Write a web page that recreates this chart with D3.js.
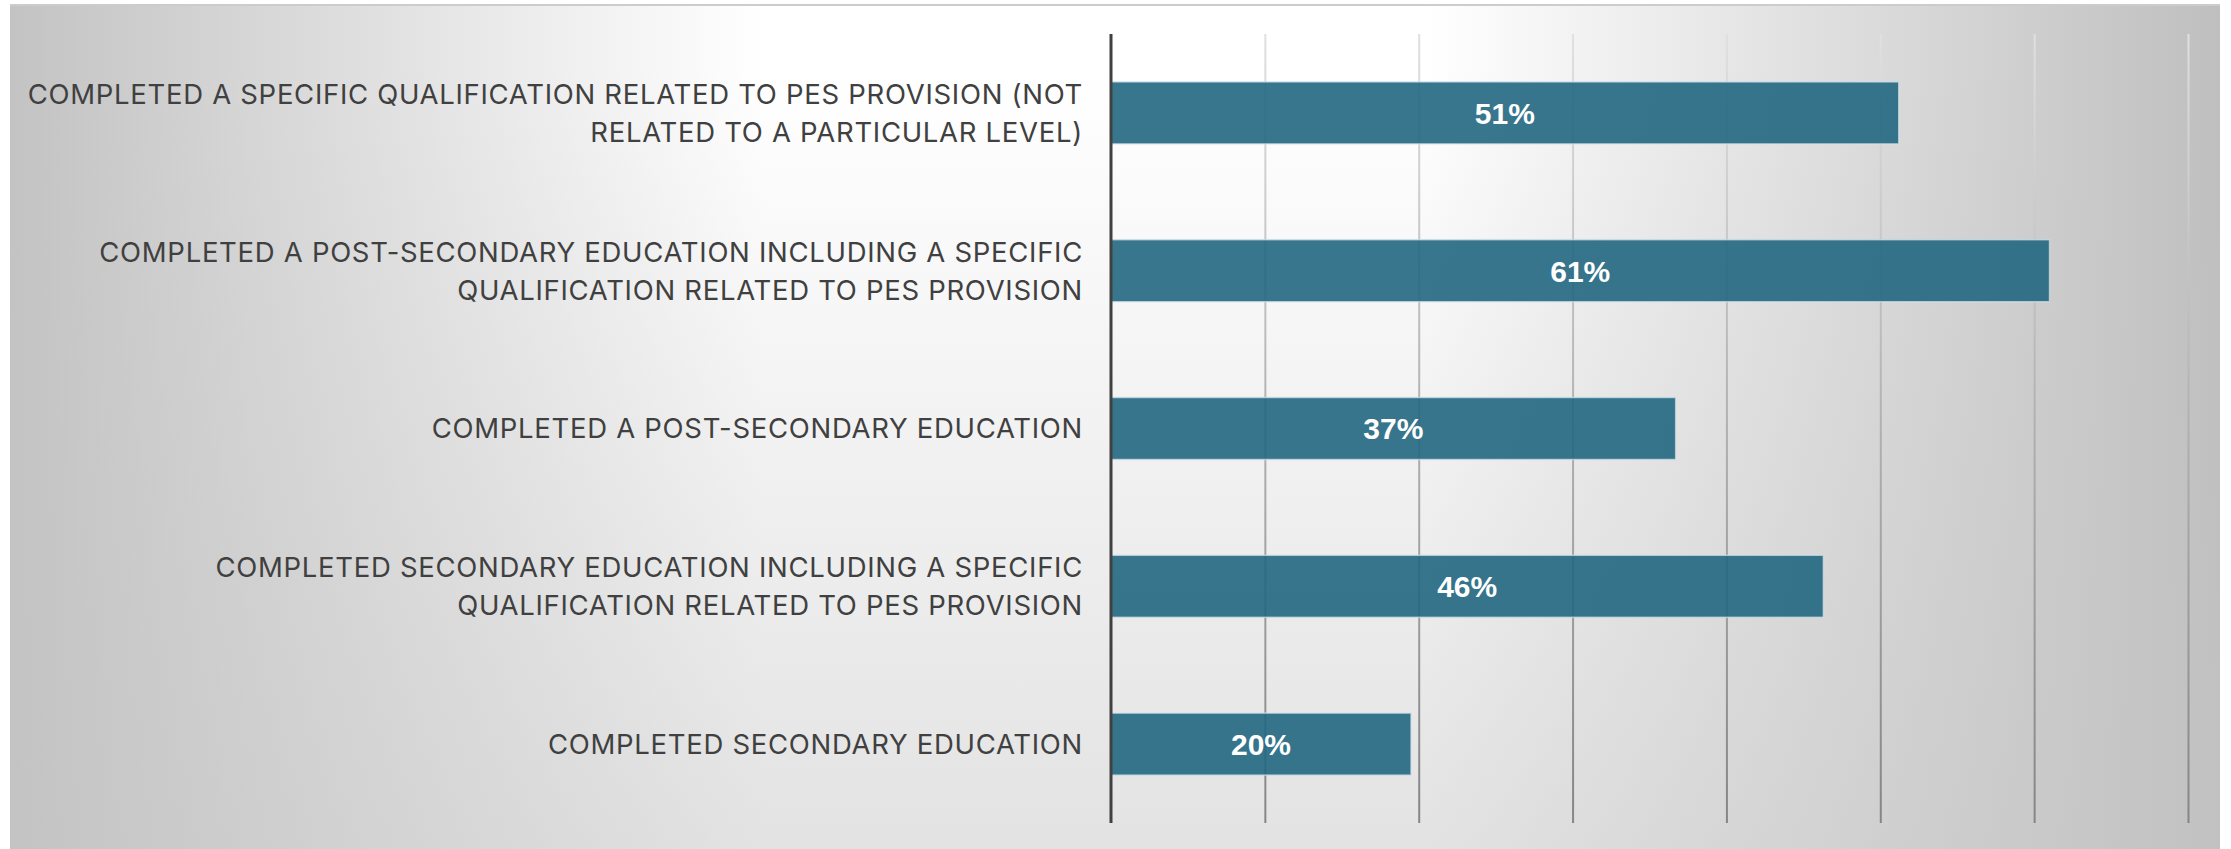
<!DOCTYPE html>
<html>
<head>
<meta charset="utf-8">
<script src="https://cdn.jsdelivr.net/npm/d3@7"></script>
<style>
  html, body { margin: 0; padding: 0; background: #fff; }
  svg { display: block; }
</style>
</head>
<body>
<svg width="2231" height="849"></svg>
<script>
// category labels, already broken into the lines used in the picture
var categories = [
    ["COMPLETED A SPECIFIC QUALIFICATION RELATED TO PES PROVISION (NOT", "RELATED TO A PARTICULAR LEVEL)"],
    ["COMPLETED A POST-SECONDARY EDUCATION INCLUDING A SPECIFIC", "QUALIFICATION RELATED TO PES PROVISION"],
    ["COMPLETED A POST-SECONDARY EDUCATION"],
    ["COMPLETED SECONDARY EDUCATION INCLUDING A SPECIFIC", "QUALIFICATION RELATED TO PES PROVISION"],
    ["COMPLETED SECONDARY EDUCATION"]
];
// shares; labels show them rounded
var values = [0.512, 0.61, 0.367, 0.463, 0.195];
var gridTicks = [0.1, 0.2, 0.3, 0.4, 0.5, 0.6, 0.7];

// small stand-in for selection.attrs (no d3-selection-multi here)
function setAttrs(sel, obj) {
    Object.keys(obj).forEach(function (k) { sel.attr(k, obj[k]); });
    return sel;
}

function addStops(grad, stops) {
    stops.forEach(function (s) {
        var st = grad.append("stop").attr("offset", s[0]).attr("stop-color", s[1]);
        if (s.length > 2) st.attr("stop-opacity", s[2]);
    });
}

var svg = d3.select("svg"),
    width = +svg.attr("width"),
    height = +svg.attr("height");

var margin = {top: 34, right: 43, bottom: 26, left: 1111};
var plotH = height - margin.bottom - margin.top;

var defs = svg.append("defs");

// panel background: grey - white - grey across, a bit greyer toward the bottom
var bgH = setAttrs(defs.append("linearGradient"), {"id": "bgH", "x1": 0, "y1": 0, "x2": 1, "y2": 0});
addStops(bgH, [[0, "#c3c3c3"], [0.34, "#ffffff"], [0.64, "#ffffff"], [1, "#bfbfbf"]]);

var bgV = setAttrs(defs.append("linearGradient"), {"id": "bgV", "x1": 0, "y1": 0, "x2": 0, "y2": 1});
addStops(bgV, [[0, "#c4c4c4", 0], [0.08, "#c4c4c4", 0], [1, "#c4c4c4", 0.48]]);

// gridlines get darker toward the bottom (coords are in the axis group's space)
var gg = setAttrs(defs.append("linearGradient"), {
    "id": "gridGrad", "gradientUnits": "userSpaceOnUse",
    "x1": 0, "y1": -plotH, "x2": 0, "y2": 0
});
addStops(gg, [[0, "#e0e0e0"], [0.5, "#b0b0b0"], [1, "#858585"]]);

setAttrs(svg.append("rect"),
    {"x": 10, "y": 5, "width": 2210, "height": height - 5, "fill": "url(#bgH)"});
setAttrs(svg.append("rect"),
    {"x": 10, "y": 5, "width": 2210, "height": height - 5, "fill": "url(#bgV)"});
setAttrs(svg.append("line"),
    {"x1": 10, "x2": 2220, "y1": 5, "y2": 5, "stroke": "#cccccc", "stroke-width": 2});

var x = d3.scaleLinear()
    .domain([0, 0.7])
    .range([margin.left, width - margin.right]);

var y = d3.scaleBand()
    .domain(d3.range(categories.length))
    .range([margin.top, height - margin.bottom])
    .paddingInner(0.607)
    .paddingOuter(0.3035);

// vertical gridlines
var grid = svg.append("g")
    .attr("transform", "translate(0," + (height - margin.bottom) + ")")
    .call(d3.axisBottom(x)
        .tickValues(gridTicks)
        .tickSize(-plotH)
        .tickFormat(""));
grid.select(".domain").remove();
grid.selectAll(".tick line")
    .attr("stroke", "url(#gridGrad)")
    .attr("stroke-width", 2);

// bars
svg.selectAll(".bar")
    .data(values)
    .enter()
    .append("rect")
    .attr("class", "bar")
    .attr("x", x(0))
    .attr("y", function (d, i) {return y(i);})
    .attr("width", function (d) {return x(d) - x(0);})
    .attr("height", y.bandwidth())
    .attr("fill", "#216780")
    .attr("fill-opacity", 0.9)
    .attr("stroke", "#d4e3ea")
    .attr("stroke-opacity", 0.7)
    .attr("stroke-width", 1.5);

// value labels
svg.selectAll(".value")
    .data(values)
    .enter()
    .append("text")
    .attr("class", "value")
    .attr("x", function (d) {return (x(0) + x(d)) / 2;})
    .attr("y", function (d, i) {return y(i) + y.bandwidth() / 2;})
    .attr("dy", "0.36em")
    .attr("text-anchor", "middle")
    .style("font-family", "'Liberation Sans', Arial, sans-serif")
    .style("font-weight", "bold")
    .style("font-size", "30px")
    .style("fill", "#ffffff")
    .text(function (d) {return Math.round(d * 100) + "%";});

// category labels
var lineH = 38;
var labels = svg.selectAll(".label")
    .data(categories)
    .enter()
    .append("text")
    .attr("class", "label")
    .attr("text-anchor", "end")
    .style("font-family", "Inter, 'Open Sans', sans-serif")
    .style("font-size", "27.5px")
    .style("letter-spacing", "0.7px")
    .style("fill", "#404040");

labels.each(function (lines, i) {
    var cy = y(i) + y.bandwidth() / 2;
    var t = d3.select(this);
    lines.forEach(function (ln, k) {
        t.append("tspan")
            .attr("x", 1083)
            .attr("y", cy + (k - (lines.length - 1) / 2) * lineH)
            .attr("dy", "0.36em")
            .text(ln);
    });
});

// category axis line
setAttrs(svg.append("line"),
    {"x1": x(0), "x2": x(0), "y1": margin.top, "y2": height - margin.bottom,
     "stroke": "#404040", "stroke-width": 3});
</script>
</body>
</html>
